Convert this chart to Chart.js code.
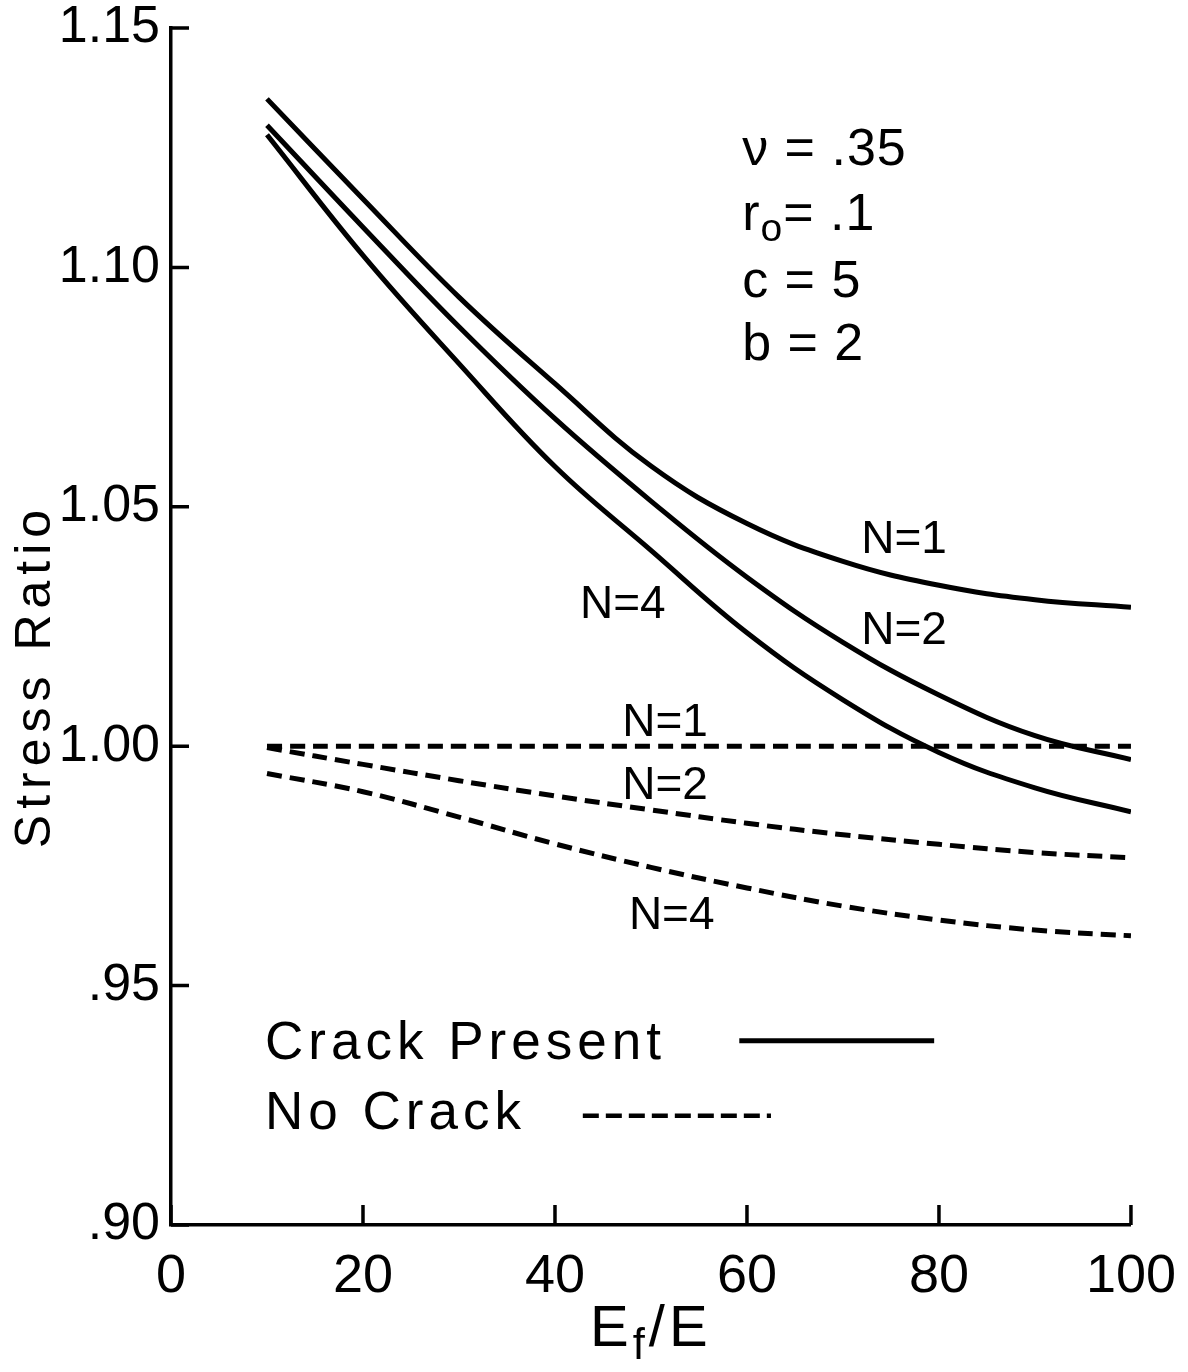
<!DOCTYPE html>
<html>
<head>
<meta charset="utf-8">
<script src="https://cdn.jsdelivr.net/npm/chart.js@4.4.0/dist/chart.umd.min.js"></script>
<style>
  body { margin: 0; background: #fff; }
  #wrap { width: 1188px; height: 1372px; }
</style>
</head>
<body>
<div id="wrap"><canvas id="stressChart"></canvas></div>
<script>
// Ef/E values
var ratios = [10, 20, 30, 40, 50, 60, 70, 80, 90, 100];

// crack present (solid)
var crackN1 = [1.1352, 1.1143, 1.0938, 1.0757, 1.0585, 1.0465, 1.0386, 1.0336, 1.0306, 1.0290];
var crackN2 = [1.1297, 1.1084, 1.0876, 1.0684, 1.0512, 1.0353, 1.0217, 1.0107, 1.0022, 0.9972];
var crackN4 = [1.1277, 1.1025, 1.0799, 1.0584, 1.0409, 1.0237, 1.0097, 0.9987, 0.9913, 0.9863];

// no crack (dashed)
var noCrackN1 = [1.0, 1.0, 1.0, 1.0, 1.0, 1.0, 1.0, 1.0, 1.0, 1.0];
var noCrackN2 = [0.9997, 0.9962, 0.9928, 0.9896, 0.9867, 0.9839, 0.9815, 0.9795, 0.9778, 0.9767];
var noCrackN4 = [0.9943, 0.9905, 0.9852, 0.9796, 0.9747, 0.9704, 0.9666, 0.9637, 0.9616, 0.9604];

var xTickLabels = ['0', '20', '40', '60', '80', '100'];
var yTickLabels = ['.90', '.95', '1.00', '1.05', '1.10', '1.15'];

var FONT = '"Liberation Sans", Arial, sans-serif';
var INK = '#000';

function serie(values, dashed) {
  return {
    data: values.map(function (v, i) { return { x: ratios[i], y: v }; }),
    borderColor: INK,
    borderWidth: 5,
    borderDash: dashed ? [15, 8] : [],
    pointRadius: 0,
    fill: false,
    tension: 0.4
  };
}

// text drawn on top: [text parts, x, y (data units), size, spacing]
var notes = [
  [[{ t: 'ν = .35' }], 59.5, 1.1214, 52, 1],
  [[{ t: 'r' }, { t: 'o', sub: true }, { t: '= .1' }], 59.5, 1.1078, 52, 1],
  [[{ t: 'c = 5' }], 59.5, 1.0938, 52, 1],
  [[{ t: 'b = 2' }], 59.5, 1.0806, 52, 1],
  [[{ t: 'N=1' }], 71.9, 1.0403, 46, 0],
  [[{ t: 'N=2' }], 71.9, 1.0214, 46, 0],
  [[{ t: 'N=4' }], 42.6, 1.0267, 46, 0],
  [[{ t: 'N=1' }], 47.0, 1.0022, 46, 0],
  [[{ t: 'N=2' }], 47.0, 0.9890, 46, 0],
  [[{ t: 'N=4' }], 47.7, 0.9619, 46, 0],
  [[{ t: 'Crack Present' }], 9.8, 0.9347, 53, 5],
  [[{ t: 'No Crack' }], 9.8, 0.9201, 53, 5]
];

function drawParts(ctx, parts, x, y, size, spacing) {
  ctx.letterSpacing = spacing + 'px';
  parts.forEach(function (p) {
    var s = p.sub ? size * 0.75 : size;
    ctx.font = s + 'px ' + FONT;
    ctx.fillText(p.t, x, p.sub ? y + size * 0.22 : y);
    x += ctx.measureText(p.t).width;
  });
  ctx.letterSpacing = '0px';
}

var extras = {
  id: 'extras',
  afterDraw: function (chart) {
    var ctx = chart.ctx;
    var xs = chart.scales.x, ys = chart.scales.y;
    var area = chart.chartArea;
    ctx.save();
    ctx.fillStyle = INK;
    ctx.strokeStyle = INK;

    // inward tick marks
    ctx.lineWidth = 3.5;
    ctx.beginPath();
    ys.ticks.forEach(function (t) {
      var py = ys.getPixelForValue(t.value);
      ctx.moveTo(area.left, py);
      ctx.lineTo(area.left + 18, py);
    });
    xs.ticks.forEach(function (t) {
      var px = xs.getPixelForValue(t.value);
      ctx.moveTo(px, area.bottom);
      ctx.lineTo(px, area.bottom - 20);
    });
    ctx.stroke();

    // notes
    ctx.textAlign = 'left';
    ctx.textBaseline = 'alphabetic';
    notes.forEach(function (n) {
      drawParts(ctx, n[0], xs.getPixelForValue(n[1]), ys.getPixelForValue(n[2]), n[3], n[4]);
    });

    // legend line samples
    ctx.lineWidth = 5;
    ctx.beginPath();
    ctx.moveTo(xs.getPixelForValue(59.2), ys.getPixelForValue(0.9385));
    ctx.lineTo(xs.getPixelForValue(79.5), ys.getPixelForValue(0.9385));
    ctx.stroke();
    ctx.lineWidth = 4.5;
    ctx.setLineDash([16, 7]);
    ctx.beginPath();
    ctx.moveTo(xs.getPixelForValue(42.9), ys.getPixelForValue(0.9228));
    ctx.lineTo(xs.getPixelForValue(62.5), ys.getPixelForValue(0.9228));
    ctx.stroke();
    ctx.setLineDash([]);

    // axis titles
    ctx.save();
    ctx.translate(50, 676);
    ctx.rotate(-Math.PI / 2);
    ctx.textAlign = 'center';
    ctx.font = '50px ' + FONT;
    ctx.letterSpacing = '6px';
    ctx.fillText('Stress Ratio', 0, 0);
    ctx.letterSpacing = '0px';
    ctx.restore();

    drawParts(ctx, [{ t: 'E' }, { t: 'f', sub: true }, { t: '/E' }], 590, 1346, 58, 4);
    ctx.restore();
  }
};

var ctx = document.getElementById('stressChart').getContext('2d');
var stressChart = new Chart(ctx, {
  type: 'line',
  data: {
    datasets: [
      serie(crackN1, false),
      serie(crackN2, false),
      serie(crackN4, false),
      serie(noCrackN1, true),
      serie(noCrackN2, true),
      serie(noCrackN4, true)
    ]
  },
  options: {
    responsive: true,
    maintainAspectRatio: false,
    animation: false,
    layout: { padding: { top: 28, right: 56, left: 0, bottom: 0 } },
    plugins: {
      legend: { display: false },
      tooltip: { enabled: false }
    },
    scales: {
      x: {
        type: 'linear',
        min: 0,
        max: 100,
        grid: { display: false },
        border: { display: true, color: INK, width: 3.5 },
        ticks: {
          stepSize: 20,
          color: INK,
          padding: 12,
          maxRotation: 0,
          font: { family: FONT, size: 54 },
          callback: function (v, i) { return xTickLabels[i]; }
        },
        afterFit: function (scale) { scale.height = 147; }
      },
      y: {
        type: 'linear',
        min: 0.90,
        max: 1.15,
        grid: { display: false },
        border: { display: true, color: INK, width: 3.5 },
        ticks: {
          stepSize: 0.05,
          color: INK,
          padding: 3,
          font: { family: FONT, size: 52, lineHeight: 0.7 },
          callback: function (v, i) { return yTickLabels[i]; }
        },
        afterFit: function (scale) { scale.width = 171; }
      }
    }
  },
  plugins: [extras]
});
</script>
</body>
</html>
